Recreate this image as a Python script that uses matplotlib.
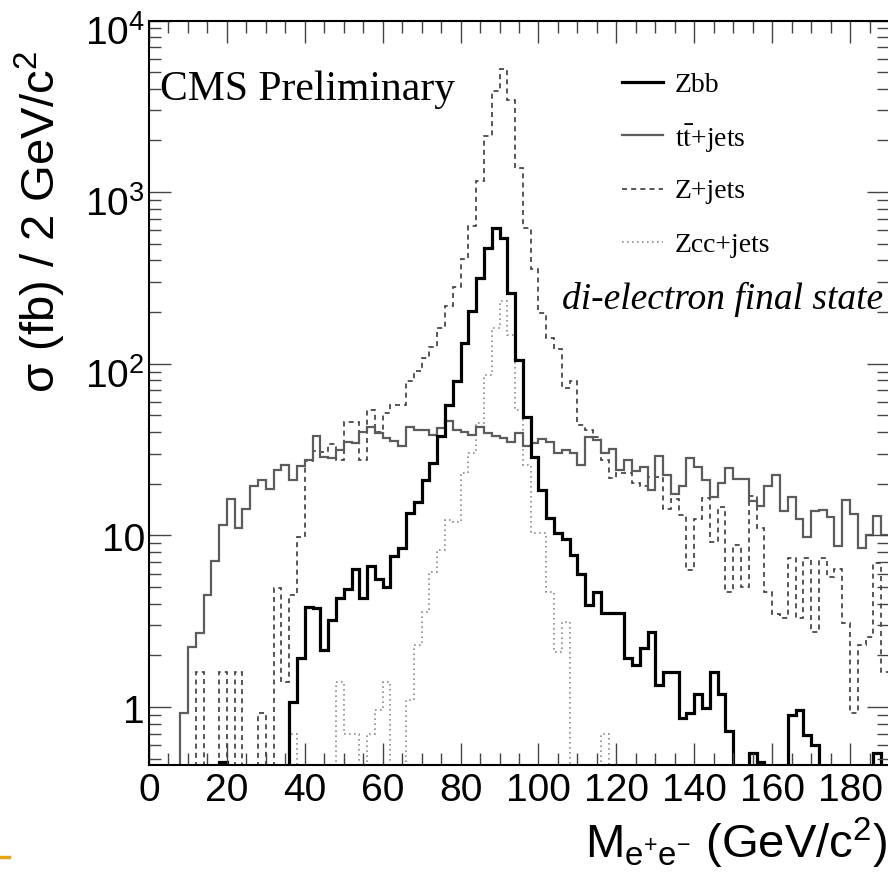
import numpy as np
import matplotlib.pyplot as plt
from matplotlib.lines import Line2D
from matplotlib.ticker import MultipleLocator, LogLocator, NullFormatter
from matplotlib.transforms import ScaledTranslation

plt.rcParams['font.family'] = ['Liberation Sans', 'DejaVu Sans']
plt.rcParams['mathtext.fontset'] = 'custom'
plt.rcParams['mathtext.rm'] = 'Liberation Sans'
plt.rcParams['mathtext.it'] = 'Liberation Sans:italic'
plt.rcParams['mathtext.bf'] = 'Liberation Sans:bold'

# 2 GeV/c^2 bins from 0 to 190
edges = np.arange(0, 192, 2)

# cross section per bin (fb); 0 = empty bin
zbb = [0, 0, 0, 0, 0, 0, 0, 0, 0, 0.48,
       0, 0, 0, 0, 0, 0, 0, 0, 1.07, 1.92,
       3.81, 3.76, 2.15, 3.22, 4.3, 4.86, 6.4, 4.3, 6.6, 5.55,
       4.99, 7.6, 8.4, 13.5, 15.6, 21, 26.6, 38, 57.7, 79,
       132, 204, 316, 472, 618, 541, 258, 105, 49.3, 28.8,
       18.4, 12.6, 10.3, 9.6, 7.7, 6.0, 3.93, 4.7, 3.52, 3.52,
       3.52, 1.92, 1.76, 2.2, 2.75, 1.34, 1.61, 1.61, 0.86, 0.92,
       1.2, 0.99, 1.61, 1.2, 0.73, 0, 0, 0.54, 0.48, 0,
       0, 0, 0.90, 0.96, 0.69, 0.60, 0, 0, 0, 0,
       0, 0, 0, 0.54, 0]

ttbar = [0, 0, 0, 0, 0.92, 2.25, 2.7, 4.5, 7.1, 11.5,
         16.3, 11, 14.2, 19.4, 21, 18.7, 24, 25.8, 21, 25.3,
         27.6, 37.8, 28.7, 28.2, 31.5, 35.2, 34.5, 39.8, 42.7, 39.4,
         36.9, 35.7, 33, 43, 41.2, 41.2, 38.5, 42.2, 46.7, 41.2,
         40.3, 38.5, 43.1, 39.4, 38, 36.9, 35.2, 39.4, 33, 34.5,
         36.4, 35.2, 30.1, 31.5, 30.1, 25.8, 37.7, 36, 30.1, 31.8,
         24.1, 27.6, 23.9, 25.2, 18.4, 29.1, 22.5, 17.5, 19.3, 28.4,
         25.2, 21.1, 16.8, 20.2, 24.8, 21.2, 21.2, 15.8, 14.9, 19.3,
         22.6, 13.9, 16.7, 12.4, 9.8, 13.9, 14.1, 12.8, 8.7, 16.1,
         13.4, 8.4, 10, 12.9, 10]

zjets = [0, 0, 0, 0, 0, 0, 1.61, 0, 0, 1.61,
         0, 1.61, 0, 0, 0.92, 0, 4.92, 1.4, 4.5, 9.8,
         27, 31, 30.5, 34, 27.5, 46, 46, 27.6, 54, 40,
         52, 57.7, 57.7, 78.9, 90.2, 108, 126, 161, 216, 282,
         408, 632, 1156, 2117, 3871, 5226, 3461, 1384, 618, 357,
         198, 141, 122, 72, 78.9, 44.1, 41.2, 37.7, 27.6, 21.5,
         23, 23, 20.2, 19.3, 22, 22, 14.2, 16.4, 13.2, 6.3,
         12.5, 16.6, 9.2, 14.7, 4.7, 8.8, 5.0, 17, 11, 4.7,
         3.5, 3.3, 7.4, 3.3, 7.4, 2.75, 7.4, 5.75, 6.4, 3.08,
         0.92, 2.3, 2.57, 6.9, 1.61]

zcc = [0, 0, 0, 0, 0, 0, 0, 0, 0, 0,
       0, 0, 0, 0, 0, 0, 0, 0, 0.70, 0,
       0, 0, 0, 0, 1.4, 0.70, 0.70, 0, 0.70, 0.96,
       1.4, 0, 0, 1.1, 2.3, 3.6, 6.15, 8.2, 12.3, 12.0,
       23, 30.1, 45.1, 86.3, 161, 233, 148, 53.9, 25.8, 10.3,
       10.3, 4.7, 2.1, 3.15, 0, 0, 0, 0, 0.70, 0,
       0, 0, 0, 0, 0, 0, 0, 0, 0, 0,
       0, 0, 0, 0, 0, 0, 0, 0, 0, 0,
       0, 0, 0, 0, 0, 0, 0, 0, 0, 0,
       0, 0, 0, 0, 0]

labels = ['Zbb', r't$\bar{\mathrm{t}}$+jets', 'Z+jets', 'Zcc+jets']
styles = [dict(color='black', lw=2.3, ls='-'),
          dict(color='#5c5c5c', lw=1.6, ls='-'),
          dict(color='#3a3a3a', lw=1.2, ls=(0, (3, 2.5))),
          dict(color='#8c8c8c', lw=1.2, ls=(0, (1, 2)))]


def on_log(v):
    # empty bins drop below the axis like in ROOT
    v = np.asarray(v, dtype=float)
    return np.where(v > 0, v, 1e-3)


fig = plt.figure(figsize=(8.88, 8.76), dpi=100)
ax = fig.add_axes([149 / 888, 111 / 876, 740 / 888, 744.5 / 876])

for vals, st in reversed(list(zip([zbb, ttbar, zjets, zcc], styles))):
    ax.stairs(on_log(vals), edges, **st)

ax.set_xlim(0, 190)
ax.set_yscale('log')
ax.set_ylim(0.46, 1e4)

ax.xaxis.set_major_locator(MultipleLocator(20))
ax.xaxis.set_minor_locator(MultipleLocator(5))
ax.set_yticks([1, 10, 100, 1000, 10000],
              labels=['1', '10', '$10^{2}$', '$10^{3}$', '$10^{4}$'])
ax.yaxis.set_minor_locator(LogLocator(base=10, subs=np.arange(2, 10)))
ax.yaxis.set_minor_formatter(NullFormatter())
ax.tick_params(which='both', direction='in', top=True, right=True,
               width=1.0, color='#444444', labelsize=28)
ax.tick_params(which='major', length=16)
ax.tick_params(which='minor', length=8.5)
ax.tick_params(axis='x', pad=6)
ax.tick_params(axis='y', pad=3)
for s in ax.spines.values():
    s.set_linewidth(1.5)

# ROOT puts the 10^n labels a bit lower than matplotlib does
for lbl in ax.get_yticklabels():
    dy = 9 if '^' in lbl.get_text() else 2
    lbl.set_transform(lbl.get_transform()
                      + ScaledTranslation(0, -dy / 100, fig.dpi_scale_trans))

# legend drawn by hand, ROOT style
row_px = [82, 135.3, 188.6, 242]
for lab, st, ypx in zip(labels, styles, row_px):
    y = (765 - ypx) / 744.5
    ax.add_line(Line2D([0.639, 0.695], [y, y], transform=ax.transAxes, **st))
    t = ax.text(0.711, y, lab, transform=ax.transAxes, family='Liberation Serif',
                size=20, va='center_baseline')
    t.set_math_fontfamily('stix')

ax.text(0.015, 0.893, 'CMS Preliminary', transform=ax.transAxes,
        family='Liberation Serif', size=30, va='baseline')
ax.text(0.992, 0.6125, 'di-electron final state', transform=ax.transAxes,
        family='Liberation Serif', style='italic', size=27,
        ha='right', va='baseline')

fig.text(40 / 888, 1 - 222 / 876, r'σ (fb) / 2 GeV/c$^{2}$', rotation=90,
         ha='center', va='center', size=34)
fig.text(887 / 888, 18 / 876, r'M$_{\mathrm{e^{+}e^{-}}}$ (GeV/c$^{2}$)',
         ha='right', va='baseline', size=34)

# small orange mark in the lower left corner of the slide
fig.add_artist(Line2D([0, 9 / 888], [19 / 876, 19 / 876], color='#e8a317', lw=2.5))

fig.savefig('out.png', dpi=100)
